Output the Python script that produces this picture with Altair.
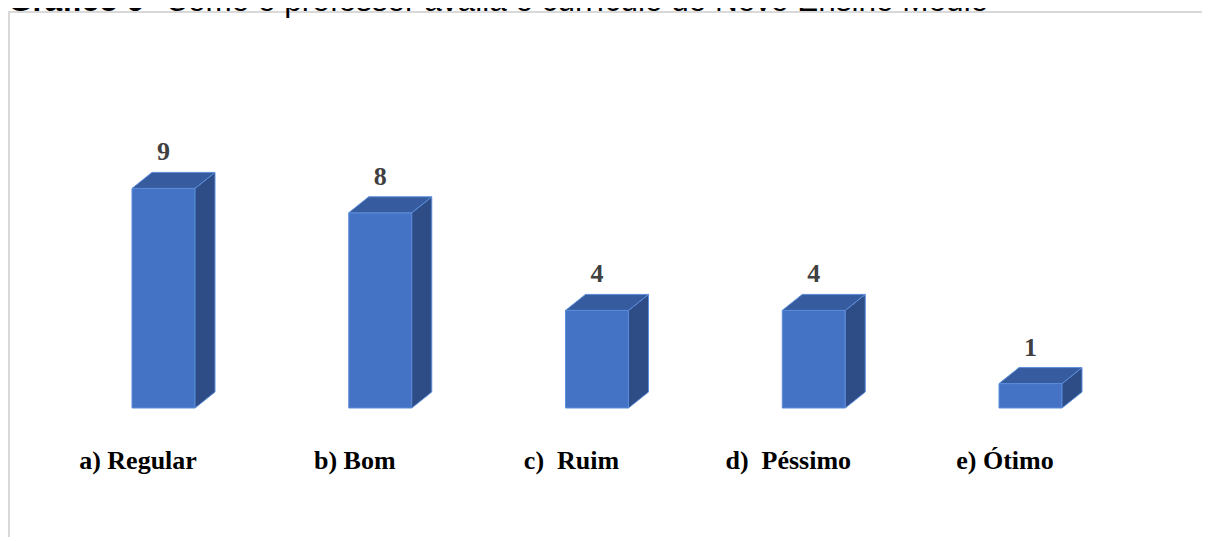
import json
import altair as alt
import pandas as pd

# ---- data ----
categories = ["a) Regular", "b) Bom", "c)\u00a0 Ruim", "d)\u00a0 Péssimo", "e) Ótimo"]
values = [9, 8, 4, 4, 1]
title_bold = "Gráfico 9"
title_rest = " - Como o professor avalia o currículo do Novo Ensino Médio"

# ---- layout / style ----
W, H = 1194, 525
X_DOMAIN = [-0.7174, 4.7912]
Y_DOMAIN = [-5.287, 16.230]
HW = 0.1453   # half bar width (x units)
DX = 0.0923   # depth offset (x units)
DZ = 0.656    # depth offset (y units)
FRONT = "#4472C4"
SIDE = "#2E4D86"
TOP = "#375B9F"
EDGE = "#5B8DDA"

bars = pd.DataFrame({"idx": list(range(len(categories))), "cat": categories, "value": values})
bars["x0"] = bars["idx"] - HW
bars["x1"] = bars["idx"] + HW
bars["top"] = bars["value"] + DZ

side_rows, top_rows = [], []
for i, v in zip(bars["idx"], bars["value"]):
    for t in (0, 1):
        side_rows.append({"idx": i, "x": i + HW + t * DX, "y": v + t * DZ, "y2": t * DZ})
        top_rows.append({"idx": i, "y": v + t * DZ, "x": i - HW + t * DX, "x2": i + HW + t * DX})
side = pd.DataFrame(side_rows)
topf = pd.DataFrame(top_rows)

xs = alt.Scale(domain=X_DOMAIN, nice=False, zero=False)
ys = alt.Scale(domain=Y_DOMAIN, nice=False, zero=False)
x_axis = alt.Axis(
    values=list(range(len(categories))),
    labelExpr=f"{json.dumps(categories, ensure_ascii=False)}[datum.value]",
    title=None, grid=False, domain=False, ticks=False,
    labelFont="Liberation Serif", labelFontWeight="bold", labelFontSize=26,
    labelColor="#000000", labelBaseline="alphabetic", labelPadding=0,
    labelOffset=-26, offset=-69, labelFlush=False, labelOverlap=False,
)

front = alt.Chart(bars).mark_rect(fill=FRONT, stroke=EDGE, strokeWidth=1).encode(
    x=alt.X("x0:Q", scale=xs, axis=x_axis),
    x2="x1:Q",
    y=alt.Y("value:Q", scale=ys, axis=None),
    y2=alt.Y2(datum=0),
)

side_face = alt.Chart(side).mark_area(fill=SIDE, stroke=EDGE, strokeWidth=1, opacity=1).encode(
    x=alt.X("x:Q", scale=xs, axis=x_axis),
    y=alt.Y("y:Q", scale=ys, axis=None),
    y2="y2:Q",
    detail="idx:N",
)

top_face = alt.Chart(topf).mark_area(orient="horizontal", fill=TOP, stroke=EDGE, strokeWidth=1, opacity=1).encode(
    y=alt.Y("y:Q", scale=ys, axis=None),
    x=alt.X("x:Q", scale=xs, axis=x_axis),
    x2="x2:Q",
    detail="idx:N",
)

labels = alt.Chart(bars).mark_text(
    font="Liberation Serif", fontWeight="bold", fontSize=26, color="#404040",
    baseline="alphabetic", align="center", dy=-12,
).encode(
    x=alt.X("idx:Q", scale=xs, axis=x_axis),
    y=alt.Y("top:Q", scale=ys, axis=None),
    text="value:Q",
)

border_top = alt.Chart(bars).mark_rule(color="#d9d9d9", strokeWidth=2).encode(
    x=alt.value(0), x2=alt.value(W + 10), y=alt.value(0)
)
border_left = alt.Chart(bars).mark_rule(color="#d9d9d9", strokeWidth=2).encode(
    x=alt.value(1), y=alt.value(0), y2=alt.value(H + 10)
)

t1 = alt.Chart(pd.DataFrame({"t": [title_bold]})).mark_text(
    font="Liberation Sans", fontWeight="bold", fontSize=31.5, color="#000000",
    align="left", baseline="alphabetic",
).encode(x=alt.value(0), y=alt.value(-1), text="t:N")
t2 = alt.Chart(pd.DataFrame({"t": [title_rest]})).mark_text(
    font="Liberation Sans", fontSize=31.5, color="#000000",
    align="left", baseline="alphabetic",
).encode(x=alt.value(138), y=alt.value(-1), text="t:N")

chart = alt.layer(
    border_top, border_left, front, side_face, top_face, labels, t1, t2
).properties(
    width=W, height=H,
    autosize=alt.AutoSizeParams(type="none"),
    padding={"left": 0, "top": 4, "right": 0, "bottom": 0},
).configure_view(stroke=None).configure(background="#ffffff")

chart.save("out.html", embed_options={"renderer": "svg", "actions": False})
